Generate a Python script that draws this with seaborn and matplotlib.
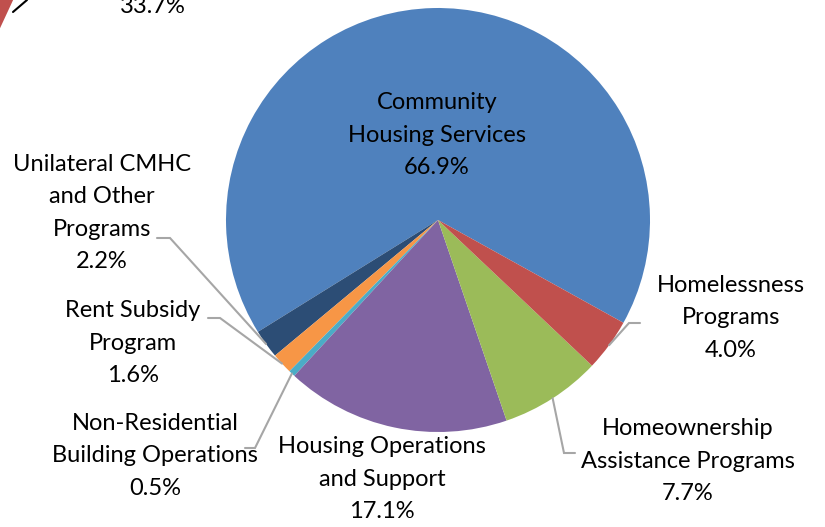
import numpy as np
import pandas as pd
import seaborn as sns
import matplotlib
matplotlib.use("Agg")
import matplotlib.pyplot as plt

# ---- data ----
categories = ["Community\nHousing Services",
              "Unilateral CMHC\nand Other\nPrograms",
              "Rent Subsidy\nProgram",
              "Non-Residential\nBuilding Operations",
              "Housing Operations\nand Support",
              "Homeownership\nAssistance Programs",
              "Homelessness\nPrograms"]
shares = [66.9, 2.2, 1.6, 0.5, 17.1, 7.7, 4.0]
colors = ["#4F81BD", "#2C4D75", "#F79646", "#4BACC6", "#8064A2", "#9BBB59", "#C0504D"]
prev_chart_share = [33.7]   # fragment of the neighbouring chart, cropped at top-left

sns.set_theme(style="white")
plt.rcParams["font.family"] = ["Lato", "DejaVu Sans"]

W, H = 825, 527
CX, CY, R = 438, 220, 212  # pie centre / radius in pixels (layout)

def px(x, y):
    return ((x - CX) / R, (CY - y) / R)

fig = plt.figure(figsize=(W / 100, H / 100), dpi=100)
ax = fig.add_axes([0, 0, 1, 1])

start = -29
ax.pie(shares, colors=colors, startangle=start, counterclock=True, radius=1,
       wedgeprops=dict(linewidth=0))

# fragment of the neighbouring pie
pc = px(104, -196)
ax.pie([v / 100 for v in prev_chart_share], normalize=False, colors=["#C0504D"],
       startangle=123.8, radius=260 / R, center=pc, wedgeprops=dict(linewidth=0))

x0, x1 = px(0, 0)[0], px(W, 0)[0]
y0, y1 = px(0, H)[1], px(0, 0)[1]
ax.set_xlim(x0, x1)
ax.set_ylim(y0, y1)
ax.set_aspect("auto")
ax.axis("off")

# label layout (pixels): text centre, leader elbow, leader end
layout = [
    ((437, 135), None, None),
    ((102, 213), (170, 238), (157, 238)),
    ((133, 343), (220, 318), (208, 318)),
    ((155, 456), (255, 448), (245, 448)),
    ((382, 479), None, None),
    ((688, 461), (564, 453), (575, 453)),
    ((731, 318), (629, 323), (640, 323)),
]

cum = np.cumsum([0] + shares)
for i, (cat, val) in enumerate(zip(categories, shares)):
    mid = np.deg2rad(start + 360 * (cum[i] + cum[i + 1]) / 2 / 100)
    rim = (np.cos(mid), np.sin(mid))
    (tx, ty), elbow, end = layout[i]
    ax.text(*px(tx, ty), f"{cat}\n{val:.1f}%", ha="center", va="center",
            fontsize=17, linespacing=1.66, color="black", zorder=5)
    if elbow is not None:
        e = px(*elbow)
        n = px(*end)
        ax.plot([rim[0], e[0], n[0]], [rim[1], e[1], n[1]], color="#A6A6A6",
                lw=1.5, solid_joinstyle="miter", zorder=4)

# cropped label of the neighbouring chart
ax.text(*px(153, 13), f"{prev_chart_share[0]:.1f}%", ha="center", va="baseline",
        fontsize=17, color="black")
a, b = px(13, 12), px(27, 0)
ax.plot([a[0], b[0]], [a[1], b[1]], color="black", lw=1.5)

fig.savefig("out.png", dpi=100)
